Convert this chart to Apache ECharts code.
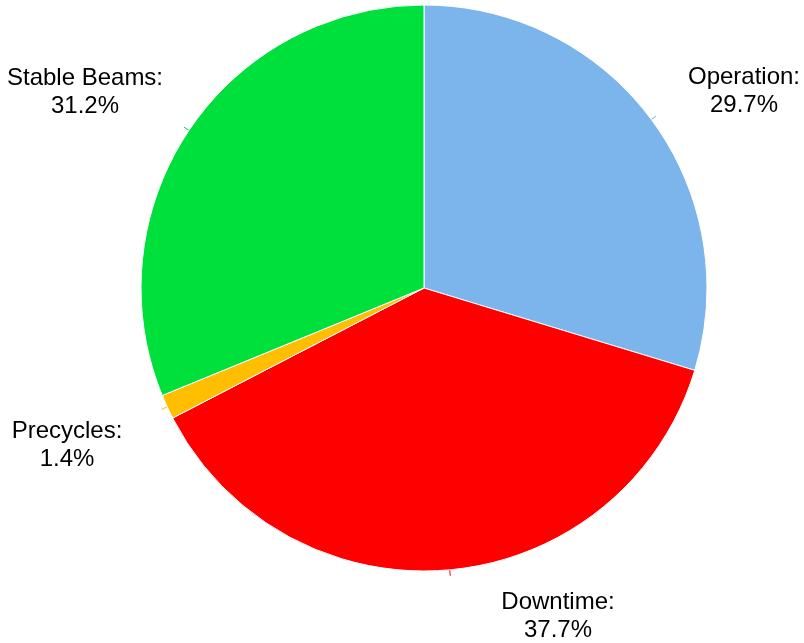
<!DOCTYPE html>
<html>
<head>
<meta charset="UTF-8">
<title>Beam time</title>
<script src="https://cdn.jsdelivr.net/npm/echarts@6/dist/echarts.min.js"></script>
</head>
<body style="margin:0;background:#fff;">
	<div id="pie" style="width:804px;height:643px;"></div>
<script>
	// slice names, values (percent) and colours
	var names = ['Operation', 'Downtime', 'Precycles', 'Stable Beams'];
	var values = [29.7, 37.7, 1.4, 31.2];
	var colors = ['#7cb5ec', '#ff0000', '#ffbf00', '#00e03c'];
	// where each label block is centred
	var labelPos = [[744, 91], [558, 616], [67, 445], [85, 92]];

	var pieChart = echarts.init(document.getElementById('pie'));
	var data = [];
	for (var i = 0; i < names.length; i++) {
		data.push({value: values[i], name: names[i], itemStyle: {color: colors[i]}});
	}
	var option = {
		animation: false,
		series: [
			{
				type: 'pie',
				center: [424, 288],
				radius: 283,
				startAngle: 90,
				clockwise: true,
				itemStyle: {
					borderColor: '#ffffff',
					borderWidth: 1
				},
				label: {
					show: true,
					position: 'outside',
					formatter: '{b}:\n{c}%',
					fontFamily: '"Liberation Sans", Arial, sans-serif',
					fontSize: 24,
					lineHeight: 28,
					color: '#000',
					align: 'center'
				},
				labelLine: {
					show: true,
					length: 6,
					length2: 0,
					lineStyle: {width: 1}
				},
				labelLayout: function (params) {
					var p = labelPos[params.dataIndex];
					return {
						x: p[0],
						y: p[1],
						align: 'center',
						verticalAlign: 'middle',
						labelLinePoints: params.labelLinePoints
					};
				},
				data: data
			}
		]
	};
	pieChart.setOption(option);
</script>
</body>
</html>
